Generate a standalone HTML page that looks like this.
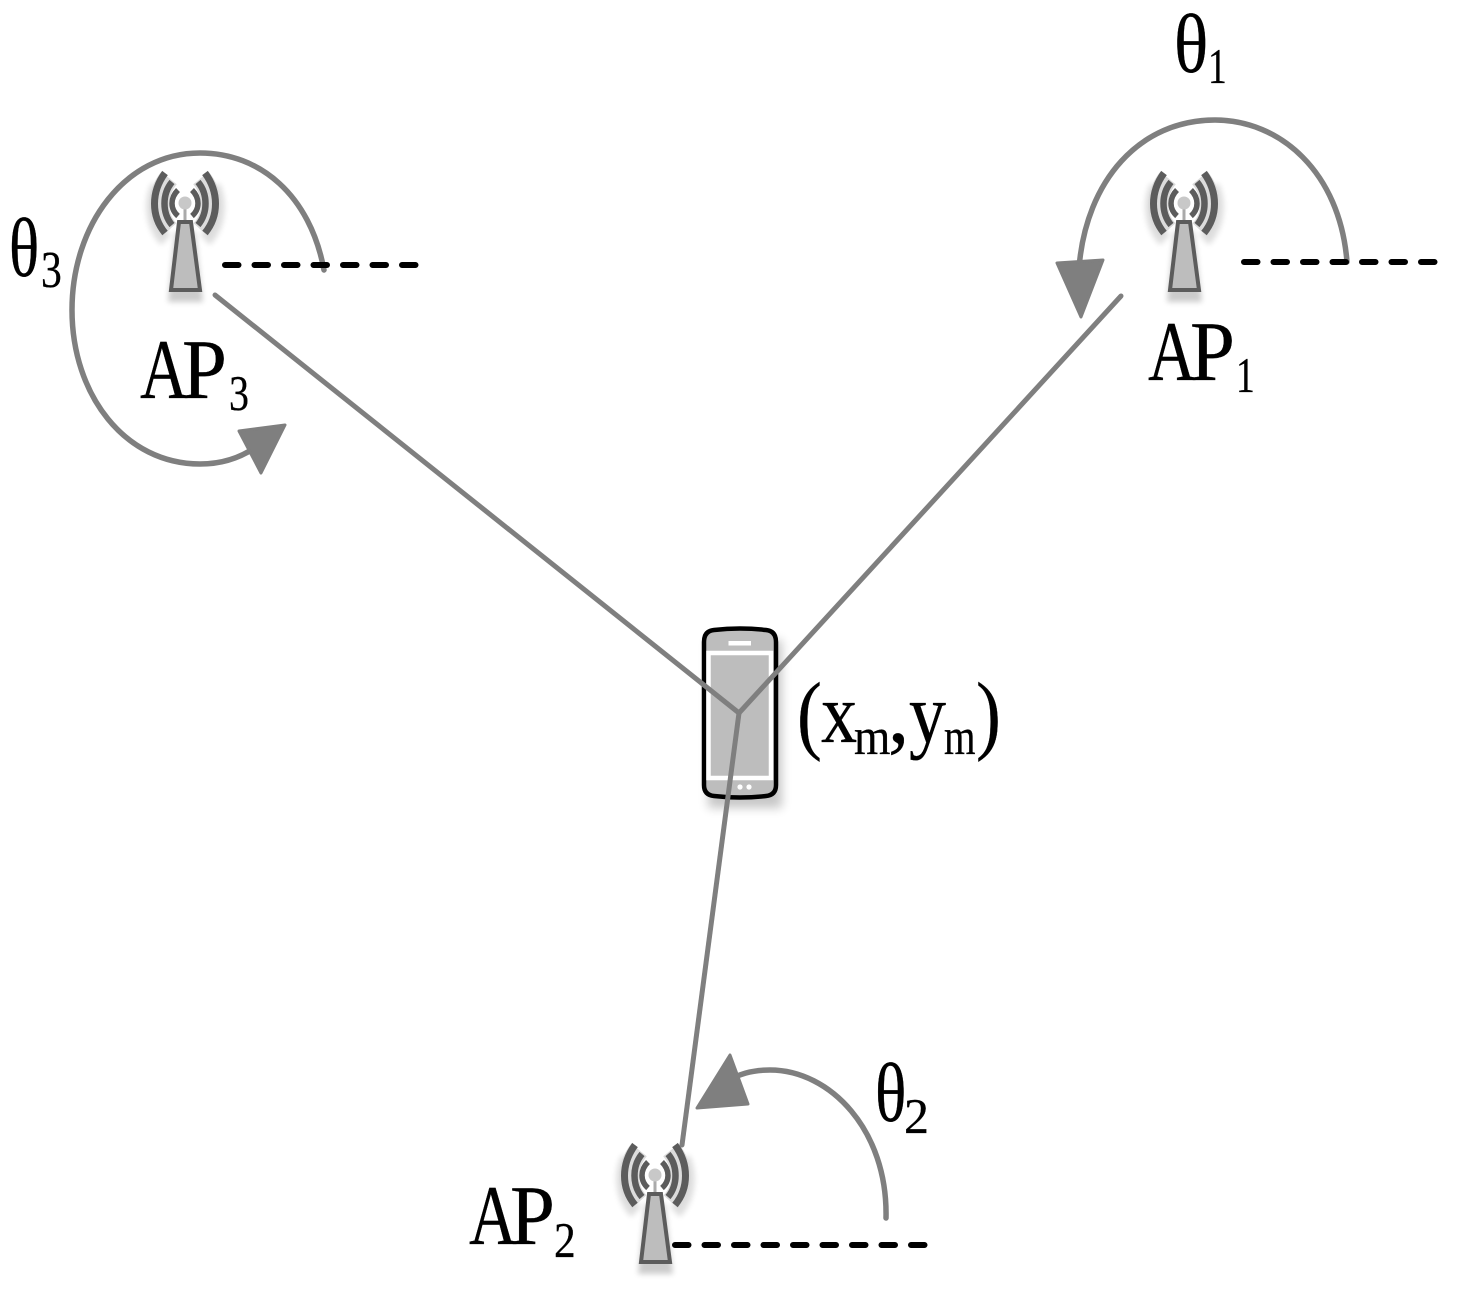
<!DOCTYPE html>
<html><head><meta charset="utf-8"><style>html,body{margin:0;padding:0;background:#fff}svg{display:block}text{text-rendering:geometricPrecision}</style></head>
<body>
<svg xmlns="http://www.w3.org/2000/svg" width="1458" height="1292" viewBox="0 0 1458 1292">
<defs>
<filter id="s" x="-30%" y="-30%" width="160%" height="160%"><feGaussianBlur stdDeviation="5"/></filter>
<filter id="s2" x="-30%" y="-30%" width="160%" height="160%"><feGaussianBlur stdDeviation="3"/></filter>
<g id="t">
<path d="M175 232L195 232L203 302L168 302Z" fill="#000" opacity=".2" filter="url(#s2)"/>
<path d="M158 186C150 202 152 226 166 240M213 186C221 202 219 226 205 240" fill="none" stroke="#000" opacity=".13" stroke-width="14" filter="url(#s2)"/>
<path d="M169 178C156 194 156 216 169 230M201 178C214 194 214 216 201 230" fill="none" stroke="#dcdcdc" stroke-width="20"/>
<g fill="none" stroke="#5c5c5c" stroke-linecap="butt">
<path d="M165 173C151 192 151 216 165 233" stroke-width="7"/>
<path d="M172 182C162 194 162 213 172 225" stroke-width="6.5"/>
<path d="M178 190C170 198 170 209 178 216" stroke-width="5.5"/>
<path d="M205 173C219 192 219 216 205 233" stroke-width="7"/>
<path d="M198 182C208 194 208 213 198 225" stroke-width="6.5"/>
<path d="M192 190C200 198 200 209 192 216" stroke-width="5.5"/>
</g>
<path d="M185 208V222" stroke="#aaa" stroke-width="3"/>
<circle cx="185" cy="203" r="6.5" fill="#c8c8c8"/>
<path d="M179 222L191 222L200 290L171 290Z" fill="#bdbdbd" stroke="#5c5c5c" stroke-width="4"/>
</g>
</defs>

<use href="#t"/>
<use href="#t" x="999"/>
<use href="#t" x="470" y="972"/>

<!-- Phone -->
<path d="M708 640H782V808H708Z" fill="#000" opacity=".22" filter="url(#s)"/>
<path d="M714 630Q740 627 766 630Q776 631 776 642V785Q776 795 766 796Q740 799 714 796Q704 795 704 785V642Q704 631 714 630Z" fill="#bdbdbd" stroke="#000" stroke-width="4.5"/>
<rect x="728.5" y="641" width="22.5" height="4.5" fill="#fff"/>
<rect x="708.5" y="653" width="62.5" height="125" fill="none" stroke="#fff" stroke-width="4.5"/>
<circle cx="740" cy="787" r="2.6" fill="#fff"/><circle cx="749" cy="787" r="2.6" fill="#fff"/>

<!-- Connectors -->
<g fill="none" stroke="#7f7f7f" stroke-linecap="round" stroke-linejoin="round">
<g stroke-width="5">
<path d="M215 295L739 713L1121 296"/>
<path d="M739 713L682 1145"/>
</g>
<g stroke-width="5.5">
<path d="M1347 262C1340 172 1280 120 1215 120C1140 120 1086 180 1079 268"/>
<path d="M324 270C310 195 260 153 200 153C125 153 72 225 72 310C72 395 125 464 200 464C222 464 240 458 256 447"/>
<path d="M886 1218C888 1130 830 1070 770 1070C752 1070 738 1074 724 1083"/>
</g>
</g>
<g fill="#7f7f7f" stroke="#7f7f7f" stroke-width="3" stroke-linejoin="round">
<path d="M1057 263L1103 260L1081 317Z"/>
<path d="M285 425L239 431L261 473Z"/>
<path d="M697 1108L730 1055L748 1104Z"/>
</g>

<!-- Dashed -->
<g stroke="#000" stroke-width="6" stroke-linecap="round" stroke-dasharray="13.5 16" fill="none">
<path d="M225 265H418"/>
<path d="M1244 262H1437"/>
<path d="M675 1245H927"/>
</g>

<!-- Labels -->
<g font-family="'Liberation Serif',serif" fill="#000" stroke="#000" stroke-width=".3">
<text transform="translate(1148 380) scale(.78 1)" font-size="85">A</text>
<text transform="translate(1190 380) scale(.95 1)" font-size="85">P</text>
<text transform="translate(1236 392) scale(.75 1)" font-size="50">1</text>

<text transform="translate(140 398) scale(.78 1)" font-size="85">A</text>
<text transform="translate(182 398) scale(.95 1)" font-size="85">P</text>
<text transform="translate(229 410) scale(.8 1)" font-size="50">3</text>

<text transform="translate(469 1244) scale(.78 1)" font-size="85">A</text>
<text transform="translate(510 1244) scale(.95 1)" font-size="85">P</text>
<text transform="translate(554 1257) scale(.87 1)" font-size="50">2</text>

<text transform="translate(1174 72) scale(.85 1)" font-size="84">θ</text>
<text transform="translate(1208 83) scale(.75 1)" font-size="50">1</text>

<text transform="translate(9 276) scale(.75 1)" font-size="84">θ</text>
<text transform="translate(41 287) scale(.8 1)" font-size="52">3</text>

<text transform="translate(875 1121) scale(.78 1)" font-size="84">θ</text>
<text transform="translate(904 1133)" font-size="50">2</text>

<text transform="translate(797 743) scale(.85 1)" font-size="88">(</text>
<text transform="translate(821 742) scale(.85 1)" font-size="85">x</text>
<text transform="translate(854 754) scale(.9 1)" font-size="52">m</text>
<text transform="translate(888 742)" font-size="85">,</text>
<text transform="translate(909 742) scale(.87 1)" font-size="85">y</text>
<text transform="translate(944 754) scale(.78 1)" font-size="52">m</text>
<text transform="translate(976 743) scale(.85 1)" font-size="88">)</text>
</g>
</svg>
</body></html>
